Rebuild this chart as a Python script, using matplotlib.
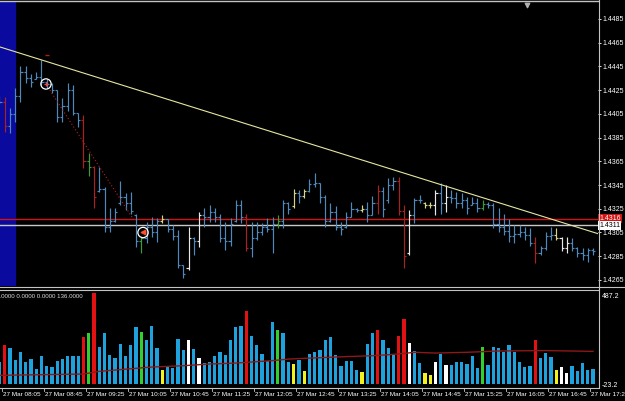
import matplotlib
matplotlib.use("Agg")
import matplotlib.pyplot as plt
from matplotlib.transforms import blended_transform_factory
import numpy as np

# 5 minute bars, 27 Mar 08:05 .. 17:30
opens = [1.4418, 1.4415, 1.4395, 1.4405, 1.4420, 1.4440, 1.4435, 1.4434, 1.4436, 1.4432,
         1.4430, 1.4425, 1.4402, 1.4412, 1.4425, 1.4406, 1.4400, 1.4365, 1.4360, 1.4340,
         1.4342, 1.4310, 1.4315, 1.4330, 1.4335, 1.4330, 1.4320, 1.4298, 1.4300, 1.4310,
         1.4305, 1.4315, 1.4316, 1.4308, 1.4302, 1.4278, 1.4275, 1.4300, 1.4298, 1.4320,
         1.4318, 1.4322, 1.4318, 1.4300, 1.4298, 1.4315, 1.4328, 1.4318, 1.4292, 1.4300,
         1.4305, 1.4310, 1.4308, 1.4312, 1.4315, 1.4330, 1.4327, 1.4338, 1.4336, 1.4340,
         1.4346, 1.4347, 1.4335, 1.4315, 1.4322, 1.4310, 1.4310, 1.4318, 1.4325, 1.4324,
         1.4325, 1.4320, 1.4330, 1.4340, 1.4332, 1.4345, 1.4348, 1.4323, 1.4288, 1.4320,
         1.4332, 1.4330, 1.4328, 1.4328, 1.4338, 1.4330, 1.4335, 1.4334, 1.4330, 1.4332,
         1.4328, 1.4330, 1.4326, 1.4329, 1.4328, 1.4312, 1.4310, 1.4306, 1.4302, 1.4304,
         1.4305, 1.4303, 1.4296, 1.4288, 1.4292, 1.4302, 1.4303, 1.4300, 1.4292, 1.4296,
         1.4292, 1.4288, 1.4286, 1.4290]
highs = [1.4420, 1.4419, 1.4410, 1.4427, 1.4445, 1.4445, 1.4439, 1.4440, 1.4450, 1.4434,
         1.4431, 1.4425, 1.4418, 1.4431, 1.4429, 1.4406, 1.4404, 1.4372, 1.4361, 1.4360,
         1.4343, 1.4326, 1.4326, 1.4348, 1.4338, 1.4339, 1.4321, 1.4301, 1.4314, 1.4318,
         1.4317, 1.4320, 1.4316, 1.4311, 1.4307, 1.4278, 1.4310, 1.4301, 1.4322, 1.4326,
         1.4328, 1.4326, 1.4321, 1.4314, 1.4317, 1.4332, 1.4332, 1.4321, 1.4314, 1.4314,
         1.4313, 1.4317, 1.4318, 1.4320, 1.4332, 1.4331, 1.4342, 1.4341, 1.4342, 1.4350,
         1.4355, 1.4347, 1.4337, 1.4330, 1.4327, 1.4314, 1.4322, 1.4331, 1.4326, 1.4328,
         1.4331, 1.4336, 1.4345, 1.4343, 1.4351, 1.4352, 1.4352, 1.4328, 1.4324, 1.4334,
         1.4337, 1.4331, 1.4331, 1.4341, 1.4347, 1.4345, 1.4341, 1.4339, 1.4338, 1.4335,
         1.4335, 1.4334, 1.4332, 1.4331, 1.4330, 1.4326, 1.4321, 1.4316, 1.4311, 1.4311,
         1.4310, 1.4309, 1.4301, 1.4294, 1.4305, 1.4310, 1.4309, 1.4301, 1.4301, 1.4300,
         1.4293, 1.4292, 1.4292, 1.4292]
lows = [1.4413, 1.4390, 1.4389, 1.4398, 1.4415, 1.4431, 1.4428, 1.4434, 1.4429, 1.4427,
        1.4423, 1.4398, 1.4398, 1.4407, 1.4404, 1.4394, 1.4359, 1.4353, 1.4326, 1.4339,
        1.4305, 1.4305, 1.4314, 1.4328, 1.4324, 1.4321, 1.4293, 1.4288, 1.4296, 1.4301,
        1.4297, 1.4313, 1.4305, 1.4299, 1.4275, 1.4267, 1.4273, 1.4286, 1.4293, 1.4310,
        1.4314, 1.4314, 1.4297, 1.4290, 1.4294, 1.4314, 1.4313, 1.4289, 1.4284, 1.4299,
        1.4303, 1.4305, 1.4288, 1.4309, 1.4309, 1.4321, 1.4326, 1.4330, 1.4334, 1.4339,
        1.4343, 1.4330, 1.4310, 1.4314, 1.4307, 1.4303, 1.4309, 1.4318, 1.4322, 1.4322,
        1.4314, 1.4320, 1.4321, 1.4318, 1.4330, 1.4341, 1.4320, 1.4275, 1.4286, 1.4313,
        1.4330, 1.4326, 1.4326, 1.4320, 1.4321, 1.4322, 1.4330, 1.4326, 1.4326, 1.4321,
        1.4328, 1.4322, 1.4324, 1.4326, 1.4309, 1.4305, 1.4303, 1.4297, 1.4296, 1.4301,
        1.4299, 1.4294, 1.4279, 1.4286, 1.4290, 1.4299, 1.4299, 1.4289, 1.4288, 1.4289,
        1.4284, 1.4282, 1.4280, 1.4286]
closes = [1.4415, 1.4395, 1.4405, 1.4420, 1.4440, 1.4435, 1.4432, 1.4436, 1.4432, 1.4430,
          1.4425, 1.4402, 1.4412, 1.4425, 1.4406, 1.4400, 1.4365, 1.4360, 1.4335, 1.4342,
          1.4310, 1.4315, 1.4322, 1.4335, 1.4330, 1.4323, 1.4298, 1.4300, 1.4310, 1.4305,
          1.4315, 1.4316, 1.4308, 1.4302, 1.4278, 1.4270, 1.4300, 1.4298, 1.4320, 1.4318,
          1.4322, 1.4318, 1.4300, 1.4298, 1.4312, 1.4328, 1.4318, 1.4292, 1.4300, 1.4305,
          1.4310, 1.4308, 1.4312, 1.4315, 1.4330, 1.4325, 1.4338, 1.4336, 1.4340, 1.4346,
          1.4347, 1.4335, 1.4315, 1.4322, 1.4310, 1.4308, 1.4318, 1.4325, 1.4324, 1.4325,
          1.4320, 1.4330, 1.4340, 1.4325, 1.4345, 1.4348, 1.4323, 1.4285, 1.4320, 1.4332,
          1.4332, 1.4328, 1.4328, 1.4338, 1.4330, 1.4335, 1.4334, 1.4330, 1.4332, 1.4326,
          1.4330, 1.4326, 1.4329, 1.4328, 1.4312, 1.4310, 1.4306, 1.4302, 1.4304, 1.4305,
          1.4303, 1.4296, 1.4288, 1.4292, 1.4302, 1.4303, 1.4300, 1.4292, 1.4296, 1.4292,
          1.4288, 1.4286, 1.4290, 1.4289]
volumes = [116, 208, 189, 127, 168, 116, 132, 81, 150, 94,
           90, 122, 131, 148, 148, 146, 247, 272, 482, 196,
           272, 154, 139, 210, 148, 208, 300, 277, 231, 307,
           191, 76, 88, 85, 237, 180, 233, 185, 136, 111,
           116, 150, 171, 154, 233, 302, 307, 387, 254, 207,
           159, 120, 328, 286, 272, 116, 108, 129, 67, 161,
           171, 178, 231, 247, 152, 97, 124, 124, 74, 64,
           212, 272, 286, 231, 189, 155, 254, 344, 217, 177,
           109, 56, 49, 116, 157, 101, 101, 116, 116, 108,
           150, 85, 196, 101, 196, 191, 168, 207, 168, 116,
           90, 94, 233, 139, 164, 143, 74, 90, 56, 95,
           67, 111, 76, 79]
# colour code per bar: b blue, r red, g green, y yellow, w white
bar_codes = ("b" "r" "bbbbbbbbbbbbbb" "r" "g" "r" "bbbbbbbb" "g" "bbb" "y" "bbbb" "w" "b" "w"
             "bbbbbbbb" "r" "bbbbb" "g" "bb" "y" "b" "y" "bbbbbbbbbb" "y" "bb" "r" "bbb"
             "r" "r" "w" "bb" "y" "y" "w" "b" "w" "bbbbbb" "g" "bbbbbbbbb" "r" "bbb"
             "y" "w" "w" "bbbbb")

# volume moving average (read at a few bars)
ma_bars = [1, 17, 20, 26, 30, 36, 41, 46, 53, 56, 59, 65, 72, 75, 78, 80, 84, 90, 96, 105, 114]
ma_vals = [46, 53, 67, 81, 90, 97, 106, 111, 124, 132, 136, 143, 150, 155, 162, 168, 164, 168, 175, 177, 173]

price_ticks = [1.4485, 1.4465, 1.4445, 1.4425, 1.4405, 1.4385, 1.4365, 1.4345, 1.4325, 1.4305, 1.4285, 1.4265]
time_bars = [1, 9, 17, 25, 33, 41, 49, 57, 65, 73, 81, 89, 97, 105, 113]
time_labels = ['27 Mar 08:05', '27 Mar 08:45', '27 Mar 09:25', '27 Mar 10:05', '27 Mar 10:45',
               '27 Mar 11:25', '27 Mar 12:05', '27 Mar 12:45', '27 Mar 13:25', '27 Mar 14:05',
               '27 Mar 14:45', '27 Mar 15:25', '27 Mar 16:05', '27 Mar 16:45', '27 Mar 17:25']

trend_x = [1.1, 114.94]
trend_y = [1.44614, 1.43040]
zig_x = [10.6, 26.8]
zig_y = [1.4425, 1.4314]
red_level = 1.4316
bid_level = 1.4311

price_col = {'b': '#4f88bc', 'r': '#a82222', 'g': '#3c9c3c', 'y': '#d4d48e', 'w': '#e8e8e8'}
vol_col = {'b': '#1ea2de', 'r': '#e21212', 'g': '#30d030', 'y': '#f2f21e', 'w': '#ffffff'}

plt.rcParams['font.family'] = ['Liberation Sans', 'DejaVu Sans']

fig = plt.figure(figsize=(6.25, 4.01), dpi=100, facecolor='black')
ax = fig.add_axes([0, 0.2868, 0.9568, 0.7082])
axv = fig.add_axes([0, 0.0314, 0.9568, 0.2404])
for a in (ax, axv):
    a.set_facecolor('black')
    for s in a.spines.values():
        s.set_visible(False)
    a.set_xlim(1.105, 114.94)

x = np.arange(1, len(closes) + 1)
pc = [price_col[c] for c in bar_codes]
vc = [vol_col[c] for c in bar_codes]

# price panel
ax.set_ylim(1.42599, 1.44993)
ax.axvspan(0, 3.96, color='#0a0a9e', zorder=0)
ax.vlines(x, lows, highs, colors=pc, lw=0.85, zorder=3)
ax.hlines(opens, x - 0.4, x, colors=pc, lw=0.85, zorder=3)
ax.hlines(closes, x, x + 0.4, colors=pc, lw=0.85, zorder=3)
ax.axhline(red_level, color='#d01414', lw=1.0, zorder=2)
ax.axhline(bid_level, color='#c8c8c8', lw=1.0, zorder=2)
ax.plot(trend_x, trend_y, color='#e6e6a2', lw=0.8, zorder=4)
ax.plot(zig_x, zig_y, color='#b02020', lw=0.8, ls=(0, (1, 2)), zorder=4)
ax.hlines(1.4455, 9.7, 10.4, colors='#b02020', lw=1.0, zorder=4)
ax.scatter([9.86, 28.33], [1.44302, 1.4305], s=55, facecolors='none', edgecolors='white', lw=0.9, zorder=5)
ax.scatter([9.86], [1.44302], s=8, marker='+', color='#ff4040', lw=0.9, zorder=6)
ax.scatter([28.33], [1.4305], s=10, marker='<', color='#ff5030', zorder=6)
ax.scatter([101.4], [1.4497], s=10, marker='v', color='#b0b0b0', zorder=6, clip_on=False)

ax.yaxis.tick_right()
ax.set_yticks(price_ticks)
ax.set_yticklabels(['%.4f' % p for p in price_ticks])
ax.tick_params(axis='y', colors='white', labelsize=5, length=2, width=0.6, pad=1.5)
ax.set_xticks([])
tr = blended_transform_factory(ax.transAxes, ax.transData)
ax.text(1.002, red_level + 0.00005, '1.4316', transform=tr, fontsize=5, color='white', va='center',
        ha='left', bbox=dict(boxstyle='square,pad=0.15', fc='#d01414', ec='none'), zorder=7, clip_on=False)
ax.text(1.002, bid_level - 0.00003, '1.4311', transform=tr, fontsize=5, color='black', va='center',
        ha='left', bbox=dict(boxstyle='square,pad=0.15', fc='white', ec='none'), zorder=8, clip_on=False)

# volume panel
axv.set_ylim(-23.2, 487.2)
axv.bar(x, volumes, width=0.62, color=vc, zorder=2)
axv.plot(ma_bars, ma_vals, color='#8c1818', lw=1.0, zorder=3)
axv.set_xticks([])
axv.set_yticks([])
axv.text(1.006, 0.985, '487.2', transform=axv.transAxes, fontsize=5, color='white', va='top', ha='left')
axv.text(1.006, 0.03, '-23.2', transform=axv.transAxes, fontsize=5, color='white', va='center', ha='left')

# frame, separators and time axis in pixel space
ov = fig.add_axes([0, 0, 1, 1], zorder=10)
ov.set_xlim(0, 625)
ov.set_ylim(401, 0)
ov.axis('off')
ov.patch.set_alpha(0)
grey = '#c4c4c4'
ov.plot([0, 598], [0.8, 0.8], color=grey, lw=1.0)
ov.plot([598.5, 598.5], [0, 388], color=grey, lw=0.8)
ov.plot([0, 625], [286.5, 286.5], color=grey, lw=0.8)
ov.plot([0, 598], [289.5, 289.5], color=grey, lw=0.8)
ov.plot([0, 598], [387.5, 387.5], color=grey, lw=0.8)
ov.text(-3.6, 296, '0.0000 0.0000 0.0000 136.0000', fontsize=4.4, color='#d8d8d8', va='center', ha='left')

tt = blended_transform_factory(axv.transData, ov.transData)
for b, lab in zip(time_bars, time_labels):
    ov.plot([b + 0.4, b + 0.4], [387.5, 390.5], color=grey, lw=0.6, transform=tt, clip_on=False)
    ov.text(b + 0.6, 395, lab, transform=tt, fontsize=4.6, color='white', va='center', ha='left',
            family=['Liberation Sans Narrow', 'Liberation Sans', 'DejaVu Sans'], clip_on=True)

fig.savefig('out.png', dpi=100, facecolor='black')
